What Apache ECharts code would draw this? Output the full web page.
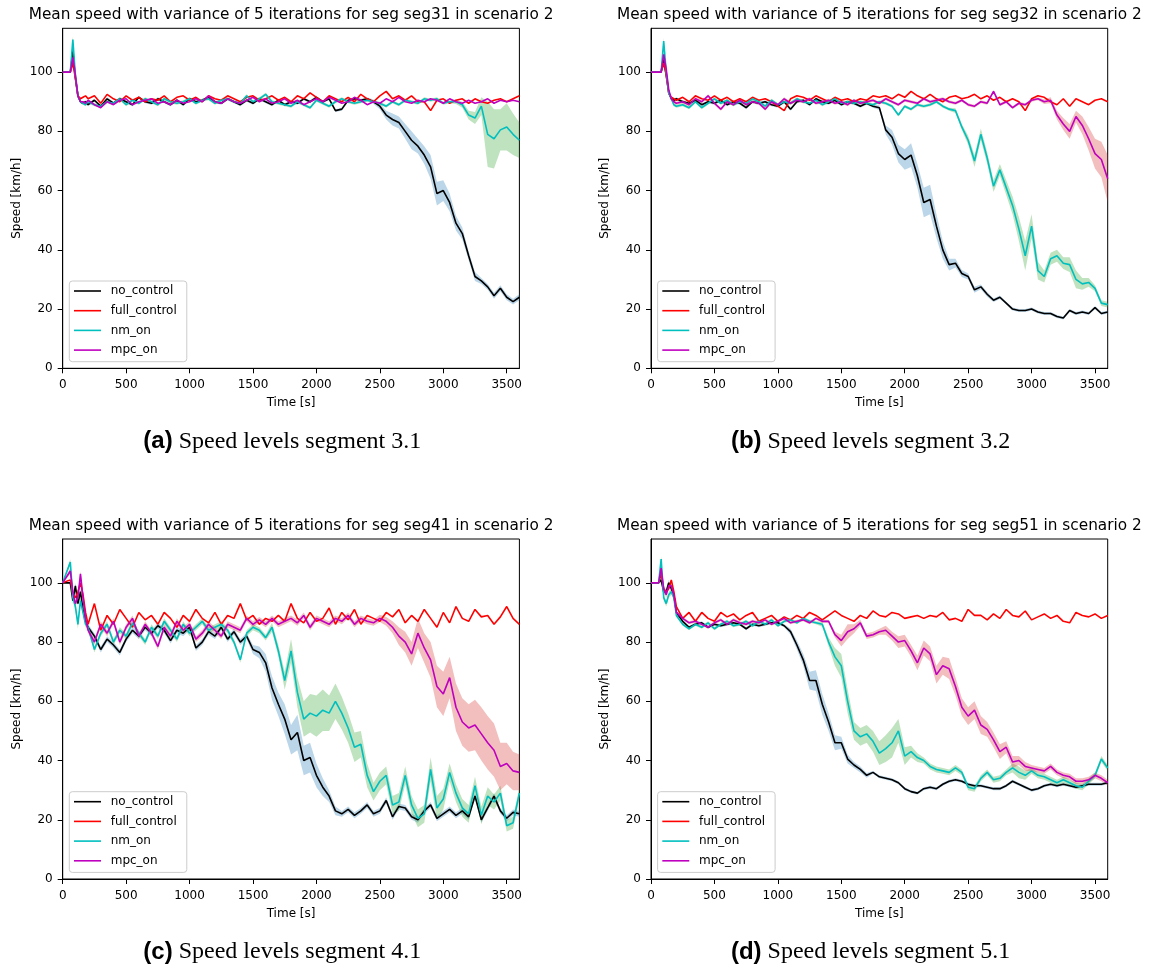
<!DOCTYPE html>
<html>
<head>
<meta charset="utf-8">
<title>Mean speed with variance of 5 iterations</title>
<script src="https://cdn.jsdelivr.net/npm/echarts@6/dist/echarts.min.js"></script>
<style>
  html, body { margin: 0; padding: 0; background: #fff; }
  #main { width: 1149px; height: 964px; }
</style>
</head>
<body>
<div id="main"></div>
<script>
// time stamps [s] shared by every series
var T = [0, 60, 80, 100, 120, 140, 160, 180,
  200, 250, 300, 350, 400, 450, 500, 550, 600, 650,
  700, 750, 800, 850, 900, 950, 1000, 1050, 1100, 1150,
  1200, 1250, 1300, 1350, 1400, 1450, 1500, 1550, 1600, 1650,
  1700, 1750, 1800, 1850, 1900, 1950, 2000, 2050, 2100, 2150,
  2200, 2250, 2300, 2350, 2400, 2450, 2500, 2550, 2600, 2650,
  2700, 2750, 2800, 2850, 2900, 2950, 3000, 3050, 3100, 3150,
  3200, 3250, 3300, 3350, 3400, 3450, 3500, 3550, 3600];

var names = ['no_control', 'full_control', 'nm_on', 'mpc_on'];
var xTicks = [0, 500, 1000, 1500, 2000, 2500, 3000, 3500];
var yTicks = [0, 20, 40, 60, 80, 100];

// ---- seg31 ----
var a_no = [100, 100, 107, 98, 92, 90, 89.5, 90,
  89, 90.5, 88.5, 91, 89.5, 91, 90, 89, 91.5, 90,
  89.5, 91, 90, 89, 90.5, 89, 91, 90, 90.5, 91.5,
  90, 89.5, 91, 90, 89, 90.5, 89.5, 91, 90, 89,
  90.5, 89, 90, 89.5, 91, 90, 91.5, 90, 91, 87,
  87.5, 90.5, 91, 90.5, 91, 90, 88.5, 85.5, 84, 83,
  80, 77, 75, 72, 68, 59, 60, 56, 49, 45.5,
  38, 31, 29.5, 27.5, 24.5, 27, 24, 22.5, 24];
var a_noBand = [0, 0, 1, 1, 0.5, 0.5, 0.5, 0.5,
  0.5, 0.5, 0.5, 0.5, 0.5, 0.5, 0.5, 0.5, 0.5, 0.5,
  0.5, 0.5, 0.5, 0.5, 0.5, 0.5, 0.5, 0.5, 0.5, 0.5,
  0.5, 0.5, 0.5, 0.5, 0.5, 0.5, 0.5, 0.5, 0.5, 0.5,
  0.5, 0.5, 0.5, 0.5, 0.5, 0.5, 0.5, 0.5, 0.5, 0.5,
  0.5, 0.5, 0.5, 0.5, 0.5, 0.8, 1, 1.5, 2, 2,
  2.5, 3, 2.5, 3, 4, 4, 3.5, 3, 2.5, 2,
  1.5, 1.5, 1, 1, 1, 1, 1, 1, 1];
var a_full = [100, 100, 103, 98, 92, 91, 91.5, 92,
  91, 92, 89.5, 92.5, 91, 90, 92, 90.5, 91.5, 90,
  91, 90.5, 92, 90, 91.5, 92, 90.5, 91.5, 90, 92,
  91, 90.5, 92, 91, 90, 91.5, 92, 90.5, 91, 92,
  90.5, 91.5, 90, 92, 91, 93, 91.5, 90, 92, 91,
  90, 91.5, 90, 92.5, 91, 90, 92, 93.5, 91, 92,
  90.5, 92, 90, 90, 87, 90.5, 91, 89.5, 90.5, 91,
  89.5, 91, 90, 89.5, 90.5, 91, 90, 91, 92];
var a_nm = [100, 100, 111, 99, 92, 90, 89.5, 89,
  90, 89, 88.5, 90, 89.5, 91, 89, 90.5, 89.5, 91,
  90, 89, 91, 90, 89.5, 90, 91, 89.5, 90.5, 91,
  89.5, 90.5, 91, 90, 89.5, 92, 90, 91, 92.5, 90,
  89.5, 89, 88.5, 90, 89, 88, 90.5, 89.5, 88.5, 90,
  91, 90, 89.5, 90, 90.5, 90, 89.5, 88.5, 90, 89,
  90.5, 90, 89.5, 91, 90.5, 91, 89.5, 90, 90, 89,
  85.5, 84.5, 88.5, 79, 77.5, 80.5, 81.5, 79, 77];
var a_nmBand = [0, 0, 1, 1, 0.5, 0.5, 0.5, 0.5,
  0.5, 0.5, 0.5, 0.5, 0.5, 0.5, 0.5, 0.5, 0.5, 0.5,
  0.5, 0.5, 0.5, 0.5, 0.5, 0.5, 0.5, 0.5, 0.5, 0.5,
  0.5, 0.5, 0.5, 0.5, 0.5, 0.5, 0.5, 0.5, 0.5, 0.5,
  0.5, 0.5, 0.5, 0.5, 0.5, 0.5, 0.5, 0.5, 0.5, 0.5,
  0.5, 0.5, 0.5, 0.5, 0.5, 0.5, 0.5, 0.5, 0.5, 0.5,
  0.5, 0.5, 0.5, 0.5, 0.5, 0.5, 0.5, 0.5, 0.8, 1,
  1.5, 2, 3, 11, 10, 7, 8, 7, 6];
var a_mpc = [100, 100, 105, 99, 92, 90, 90, 89.5,
  90.5, 89, 88, 90, 89, 90.5, 91, 89, 90, 90.5,
  91, 89.5, 90, 89, 90.5, 89.5, 90, 91, 90, 92,
  90, 89.5, 91, 90, 89.5, 90.5, 91.5, 90, 91, 89.5,
  90, 91, 89.5, 90.5, 89, 90, 91, 90, 91.5, 90.5,
  89.5, 90, 91.5, 90.5, 89, 90, 89.5, 91, 90, 91.5,
  90, 89.5, 90.5, 90, 91, 90.5, 89.5, 91, 90, 89.5,
  90.5, 89.5, 90, 91, 89.5, 90.5, 90, 90.5, 90];

// ---- seg32 ----
var b_no = [100, 100, 100, 105, 99, 93, 91, 90.5,
  91, 90, 89.5, 90.5, 89, 90, 89.5, 90.5, 89, 90,
  89.5, 88, 90, 89.5, 90, 89, 88.5, 90, 87.5, 90,
  90.5, 89, 91, 90, 89.5, 90.5, 89, 90, 89.5, 88.5,
  89.5, 88.5, 88, 80.5, 78, 72.5, 70.5, 72, 65, 56,
  57, 48, 40, 35, 35.5, 32, 31, 26.5, 27.5, 25,
  23, 24, 22, 20, 19.5, 19.5, 20, 19, 18.5, 18.5,
  17.5, 17, 19.5, 18.5, 19, 18.5, 20.5, 18.5, 19];
var b_noBand = [0, 0, 0, 1, 1, 0.5, 0.5, 0.5,
  0.5, 0.5, 0.5, 0.5, 0.5, 0.5, 0.5, 0.5, 0.5, 0.5,
  0.5, 0.5, 0.5, 0.5, 0.5, 0.5, 0.5, 0.5, 0.5, 0.5,
  0.5, 0.5, 0.5, 0.5, 0.5, 0.5, 0.5, 0.5, 0.5, 0.5,
  0.5, 0.5, 0.8, 1.5, 2.5, 3, 3.5, 4, 4, 5,
  5, 4, 3, 2, 1.5, 1.2, 1, 1, 0.8, 0.8,
  0.6, 0.6, 0.5, 0.5, 0.5, 0.5, 0.5, 0.5, 0.5, 0.5,
  0.5, 0.5, 0.5, 0.5, 0.5, 0.5, 0.5, 0.5, 0.5];
var b_full = [100, 100, 100, 103, 99, 93, 91.5, 91,
  90.5, 91.5, 90, 92, 91, 90.5, 92, 90.5, 91.5, 90,
  91, 90, 91.5, 90.5, 91, 90, 88.5, 87, 91, 92,
  91.5, 90.5, 92, 91, 90, 91.5, 90.5, 91, 90, 91,
  90.5, 92, 91.5, 92, 91, 92.5, 91.5, 93.5, 92, 91,
  92.5, 91, 90, 91.5, 92, 91, 91.5, 92.5, 91, 92,
  90.5, 91.5, 90, 91, 90, 87, 91, 92, 91.5, 90,
  89, 91, 88.5, 91, 90, 89, 90.5, 91, 90];
var b_nm = [100, 100, 100, 110.5, 100, 93, 91, 89,
  88.5, 89, 88, 90, 88, 89.5, 91, 89.5, 90.5, 89,
  90, 89.5, 91, 90, 88.5, 90.5, 89, 90, 89.5, 91,
  90, 89.5, 90.5, 89, 90, 91, 89.5, 90, 89.5, 90,
  89.5, 89, 90, 89.5, 88.5, 85.5, 88.5, 87.5, 89, 88.5,
  89, 90, 88.5, 87.5, 87, 81.5, 77, 70, 79, 71,
  61.5, 67, 61, 55, 47, 38, 48, 33, 31, 37,
  38, 35.5, 35, 30, 28.5, 29, 27, 22, 21.5];
var b_nmBand = [0, 0, 0, 1, 1, 0.5, 0.5, 0.5,
  0.5, 0.5, 0.5, 0.5, 0.5, 0.5, 0.5, 0.5, 0.5, 0.5,
  0.5, 0.5, 0.5, 0.5, 0.5, 0.5, 0.5, 0.5, 0.5, 0.5,
  0.5, 0.5, 0.5, 0.5, 0.5, 0.5, 0.5, 0.5, 0.5, 0.5,
  0.5, 0.5, 0.5, 0.5, 0.5, 0.5, 0.5, 0.5, 0.5, 0.5,
  0.5, 0.5, 0.5, 0.5, 0.8, 1, 1.5, 2, 2, 2,
  2, 2, 2.5, 3, 4, 5, 4, 3, 2, 2,
  2, 2, 2.5, 3, 2, 1.5, 1, 1, 1];
var b_mpc = [100, 100, 100, 106, 101, 94, 91, 90,
  89.5, 90, 89, 91, 90, 92, 89.5, 87.5, 90, 89,
  90.5, 89, 90, 89.5, 87.5, 90, 89, 91, 89.5, 90.5,
  90, 91, 89.5, 90, 90.5, 89.5, 90, 89, 90.5, 89.5,
  90, 90.5, 89.5, 91, 90, 89, 90.5, 90, 89.5, 91,
  90, 90.5, 91, 90, 89.5, 90.5, 89, 88.5, 90, 89.5,
  93.5, 89, 90, 88, 89.5, 89, 90.5, 91, 90, 90.5,
  85.5, 82.5, 80, 85, 82, 77.5, 72.5, 70.5, 64];
var b_mpcBand = [0, 0, 0, 1, 1, 0.5, 0.5, 0.5,
  0.5, 0.5, 0.5, 0.5, 0.5, 0.5, 0.5, 0.5, 0.5, 0.5,
  0.5, 0.5, 0.5, 0.5, 0.5, 0.5, 0.5, 0.5, 0.5, 0.5,
  0.5, 0.5, 0.5, 0.5, 0.5, 0.5, 0.5, 0.5, 0.5, 0.5,
  0.5, 0.5, 0.5, 0.5, 0.5, 0.5, 0.5, 0.5, 0.5, 0.5,
  0.5, 0.5, 0.5, 0.5, 0.5, 0.5, 0.5, 0.5, 0.5, 0.5,
  0.5, 0.5, 0.5, 0.5, 0.5, 0.5, 0.5, 0.5, 0.8, 1,
  1.5, 2, 2.5, 2, 3, 4, 5, 6, 8];

// ---- seg41 ----
var c_no = [100, 100, 94, 99, 93, 97, 91, 87,
  85, 82, 77.5, 81, 79, 76.5, 81, 84, 82, 85,
  83, 85.5, 84, 80.5, 84, 83, 85, 78, 80, 83.5,
  82, 85, 81, 83.5, 80, 82, 77.5, 76.5, 73, 64.5,
  59, 54, 47, 49.5, 40, 41, 35, 31, 28, 23,
  22, 23.5, 21.5, 23, 25, 22, 23, 26.5, 21, 24.5,
  24, 21, 20, 23, 25, 20.5, 22, 23.5, 21.5, 23,
  21, 28, 20, 24, 28, 23, 20.5, 22.5, 22];
var c_noBand = [0, 0.5, 1, 1, 1, 1, 1, 1,
  1, 1, 1, 1, 1, 1, 1, 1, 1, 1,
  1, 1, 1, 1, 1, 1, 1, 1, 1, 1,
  1, 1, 1, 1, 1, 1, 1.5, 2, 3, 4,
  4, 5, 5, 6, 5, 5, 4, 3, 2, 1.5,
  1, 1, 1, 1, 1, 1, 1, 1, 1, 1,
  1, 1, 1, 1, 1, 1, 1, 1, 1, 1,
  1, 1, 1, 1, 1, 1, 1, 1, 1];
var c_full = [100, 101, 96, 95, 97, 100, 96, 90,
  86, 93, 84, 89, 86, 91, 88, 85, 90, 87.5,
  89, 86, 90, 88, 85, 89, 87, 91, 88, 86.5,
  90, 86, 89, 88, 93, 87.5, 89, 86, 88, 87,
  89, 87, 93, 88, 86.5, 90, 87, 88, 91.5, 86,
  90, 87.5, 91, 86, 89, 88, 87, 90, 88.5, 91,
  86.5, 89, 87, 91, 88, 85, 90, 86.5, 92, 88,
  87, 91, 88.5, 89, 86, 88.5, 92, 88, 86];
var c_nm = [100, 107, 95, 92, 86, 94, 90, 86,
  85, 77.5, 83, 86, 80, 84, 82, 86.5, 83, 80,
  85, 82, 87, 84, 81, 86, 83, 85, 87, 84,
  85, 86, 84, 80, 74, 83, 85, 84, 81.5, 85,
  77, 67, 77, 63, 54, 56, 55, 57, 56, 60,
  56, 51, 44.5, 45.5, 35, 29.5, 33, 35, 25, 26,
  35, 25, 20.5, 22, 37, 24, 27, 36, 29, 24,
  22, 31.5, 21.5, 28, 26, 29, 18, 19, 29];
var c_nmBand = [0, 1, 1, 1.5, 1.5, 1, 1, 1,
  1, 1, 1, 1, 1, 1, 1, 1, 1, 1,
  1, 1, 1, 1, 1, 1, 1, 1, 1, 1,
  1, 1, 1, 1, 1, 1, 1, 1, 1, 1.5,
  2, 3, 4, 5, 6, 6.5, 7, 7, 6, 6,
  5.5, 5, 5, 4.5, 4, 3, 3, 3, 3, 3,
  3, 3, 3, 3, 4, 4, 3.5, 3, 3, 3,
  3, 3, 3, 3, 2.5, 2.5, 2, 2, 2];
var c_mpc = [100, 104, 97, 93, 95, 103, 95, 88,
  84, 80, 86, 83, 87, 80, 85, 88, 82, 86,
  83, 78.5, 85, 82, 87, 84, 86, 81, 83, 86,
  84, 82, 86, 85, 84, 88, 86, 87.5, 86, 88,
  86, 87, 88, 86.5, 89, 85, 88, 87, 86, 88,
  87, 89, 86, 88, 87, 86.5, 88, 87, 85, 82,
  80, 76, 83, 78, 74, 65, 62.5, 68, 58, 53,
  51, 52, 49, 46, 43.5, 38, 39, 36.5, 36];
var c_mpcBand = [0, 1, 1, 1, 1, 1, 1, 1,
  1, 1, 1, 1, 1, 1, 1, 1, 1, 1,
  1, 1, 1, 1, 1, 1, 1, 1, 1, 1,
  1, 1, 1, 1, 1, 1, 1, 1, 1, 1,
  1, 1, 1, 1, 1, 1, 1, 1, 1, 1,
  1, 1, 1, 1, 1, 1, 1.2, 1.5, 2, 3,
  3.5, 4, 5, 5, 6, 7, 7.5, 7, 8, 8,
  8, 8.5, 9, 9, 9, 8, 7, 6.5, 6];

// ---- seg51 ----
var d_no = [100, 100, 101, 97, 97, 100, 98, 96,
  90, 87, 85, 86, 86.5, 85, 86, 85.5, 86, 86.5,
  86, 84.5, 86, 85.5, 86, 86.5, 86.5, 85.5, 83.5, 79,
  74, 67, 67, 59, 53, 46, 46, 40.5, 38.5, 37,
  35, 36, 34.5, 34, 33.5, 32.5, 30.5, 29.5, 29, 30.5,
  31, 30.5, 32, 33, 33.5, 33, 32, 31.5, 31.5, 31,
  30.5, 30.5, 31.5, 33, 32, 31, 30, 30.5, 31.5, 32,
  31.5, 32, 31.5, 31, 31.5, 32, 32, 32, 32.5];
var d_noBand = [0, 0, 1, 1, 1, 1, 0.5, 0.5,
  0.5, 0.5, 0.5, 0.5, 0.5, 0.5, 0.5, 0.5, 0.5, 0.5,
  0.5, 0.5, 0.5, 0.5, 0.5, 0.5, 0.5, 0.5, 1, 1.5,
  2, 3, 3.5, 3.5, 3, 2.5, 2, 1.5, 1, 1,
  0.8, 0.5, 0.5, 0.5, 0.5, 0.5, 0.5, 0.5, 0.5, 0.5,
  0.5, 0.5, 0.5, 0.5, 0.5, 0.5, 0.5, 0.5, 0.5, 0.5,
  0.5, 0.5, 0.5, 0.5, 0.5, 0.5, 0.5, 0.5, 0.5, 0.5,
  0.5, 0.5, 0.5, 0.5, 0.5, 0.5, 0.5, 0.5, 0.5];
var d_full = [100, 100, 103, 98, 97, 98, 101, 97,
  92, 88, 90, 87, 90, 88, 87, 90, 88.5, 89.5,
  87.5, 89, 90, 87, 88, 89, 87, 88.5, 87.5, 89,
  88, 90, 89, 87.5, 89, 90.5, 89, 88, 87, 89,
  88, 90.5, 89, 88.5, 90, 89.5, 88, 88.5, 89, 88,
  89, 88.5, 90, 87.5, 88, 87, 91, 89, 89, 87.5,
  89.5, 88, 91, 89, 88.5, 90.5, 87.5, 88.5, 89.5, 88,
  89, 87, 86.5, 90, 89, 88.5, 89.5, 88, 89];
var d_nm = [100, 100, 108, 95, 93, 96, 97, 95,
  89, 86, 84.5, 86, 85, 86.5, 84.5, 86, 87, 85.5,
  86, 87, 85.5, 87, 86, 87.5, 85.5, 87, 87.5, 86.5,
  88, 87, 86.5, 86, 80, 75, 72, 60, 50, 48,
  49, 46.5, 42.5, 44, 46, 50, 41.5, 43, 41, 40,
  38, 37, 36.5, 36, 37.5, 36, 31, 30.5, 34, 36,
  33.5, 34, 36, 37.5, 36, 35, 36.5, 35, 34.5, 33.5,
  32.5, 33.5, 32.5, 31.5, 31, 33, 35, 40.5, 37.5];
var d_nmBand = [0, 0, 1, 1, 1, 1, 1, 0.5,
  0.5, 0.5, 0.5, 0.5, 0.5, 0.5, 0.5, 0.5, 0.5, 0.5,
  0.5, 0.5, 0.5, 0.5, 0.5, 0.5, 0.5, 0.5, 0.5, 0.5,
  0.5, 0.5, 0.5, 0.8, 1.5, 3, 4, 4, 3, 3,
  3, 3.5, 4, 4.5, 5, 4, 3, 2, 1.5, 1,
  1, 1, 1, 1, 1, 1, 1, 1, 1, 1,
  1, 1, 1, 1.5, 2, 1.5, 1, 1, 1, 1,
  1, 1, 1, 1, 1, 1, 1, 1, 1];
var d_mpc = [100, 100, 105, 98, 96, 99, 99, 96,
  90, 88, 86.5, 87, 86, 85, 86.5, 87.5, 86, 87.5,
  86.5, 86, 87, 86.5, 87.5, 86, 87, 88, 86.5, 87,
  87.5, 86.5, 88, 87, 87, 82.5, 80.5, 83.5, 84.5, 86.5,
  82, 82.5, 83.5, 84, 82, 80, 80.5, 77, 73, 78,
  76, 69, 72, 71, 65, 58, 55, 57, 52, 50.5,
  47, 43, 44.5, 39.5, 40, 38, 37.5, 37, 36.5, 38,
  36, 35, 34.5, 33, 33, 33.5, 35, 34, 32.5];
var d_mpcBand = [0, 0, 1, 1, 1, 1, 0.5, 0.5,
  0.5, 0.5, 0.5, 0.5, 0.5, 0.5, 0.5, 0.5, 0.5, 0.5,
  0.5, 0.5, 0.5, 0.5, 0.5, 0.5, 0.5, 0.5, 0.5, 0.5,
  0.5, 0.5, 0.5, 0.5, 0.5, 1, 2, 2.5, 1.5, 1,
  1, 1, 1, 1.5, 1.5, 2, 2, 2, 2.5, 2.5,
  2.5, 3, 3, 3.5, 3, 3, 3, 3, 3, 2.5,
  2.5, 2.5, 2, 2, 1.5, 1.5, 1, 1, 1, 1,
  1, 1, 1, 1, 1, 1, 1, 1, 1];

var panels = [
  { seg: 'seg31', tag: '(a)', text: 'Speed levels segment 3.1',
    means: [a_no, a_full, a_nm, a_mpc], bands: [a_noBand, null, a_nmBand, null] },
  { seg: 'seg32', tag: '(b)', text: 'Speed levels segment 3.2',
    means: [b_no, b_full, b_nm, b_mpc], bands: [b_noBand, null, b_nmBand, b_mpcBand] },
  { seg: 'seg41', tag: '(c)', text: 'Speed levels segment 4.1',
    means: [c_no, c_full, c_nm, c_mpc], bands: [c_noBand, null, c_nmBand, c_mpcBand] },
  { seg: 'seg51', tag: '(d)', text: 'Speed levels segment 5.1',
    means: [d_no, d_full, d_nm, d_mpc], bands: [d_noBand, null, d_nmBand, d_mpcBand] }
];

var lineColors = ['#000000', '#ff0000', '#00bfbf', '#bf00bf'];
var bandColors = ['#1f77b4', '#ff7f0e', '#2ca02c', '#d62728'];
var boxes = [[62.7, 28.3], [651, 28.3], [62.7, 539], [651, 539]];
var capX = [282.3, 870.6, 282.3, 870.6];
var plotW = 456.7, plotH = 340;
var font = 'DejaVu Sans';

var grid = [], xAxis = [], yAxis = [], series = [], legend = [], graphic = [];

function plain(v) { return String(v); }

function bandSeries(pi, m, b, color) {
  var rows = T.map(function (t, i) { return [t, m[i] - b[i], m[i] + b[i]]; });
  return {
    type: 'custom', coordinateSystem: 'cartesian2d', xAxisIndex: pi, yAxisIndex: pi,
    z: 1, silent: true, clip: true, animation: false,
    encode: { x: 0, y: [1, 2] },
    data: rows,
    renderItem: function (params, api) {
      if (params.dataIndex !== 0) return null;
      var pts = [];
      for (var i = 0; i < rows.length; i++) pts.push(api.coord([rows[i][0], rows[i][2]]));
      for (var j = rows.length - 1; j >= 0; j--) pts.push(api.coord([rows[j][0], rows[j][1]]));
      return { type: 'polygon', shape: { points: pts }, style: { fill: color, opacity: 0.3 } };
    }
  };
}

panels.forEach(function (p, pi) {
  var L = boxes[pi][0], top = boxes[pi][1];
  grid.push({ left: L, top: top, width: plotW, height: plotH, show: true,
    borderColor: '#000', borderWidth: 1, outerBoundsMode: 'none', containLabel: false });

  xAxis.push({
    type: 'value', gridIndex: pi, min: 0, max: 3600, interval: 500,
    name: 'Time [s]', nameLocation: 'middle', nameGap: 29,
    nameTextStyle: { fontFamily: font, fontSize: 12, color: '#000' },
    axisLine: { show: true, onZero: false, lineStyle: { color: '#000', width: 1 } },
    axisTick: { show: true, length: 5, lineStyle: { color: '#000' }, customValues: xTicks },
    axisLabel: { color: '#000', fontFamily: font, fontSize: 12, margin: 10.5,
      customValues: xTicks, formatter: plain },
    splitLine: { show: false }
  });
  yAxis.push({
    type: 'value', gridIndex: pi, min: 0, max: 114.8, interval: 20,
    name: 'Speed [km/h]', nameLocation: 'middle', nameGap: 40,
    nameTextStyle: { fontFamily: font, fontSize: 12, color: '#000' },
    axisLine: { show: true, onZero: false, lineStyle: { color: '#000', width: 1 } },
    axisTick: { show: true, length: 5, lineStyle: { color: '#000' }, customValues: yTicks },
    axisLabel: { color: '#000', fontFamily: font, fontSize: 12, margin: 10,
      customValues: yTicks, formatter: plain },
    splitLine: { show: false }
  });

  // variance bands first, so the mean lines sit on top
  p.means.forEach(function (m, k) {
    if (m.length !== T.length) throw new Error(p.seg + ' ' + names[k] + ' length ' + m.length);
    var b = p.bands[k];
    if (b) {
      if (b.length !== T.length) throw new Error(p.seg + ' band ' + names[k] + ' length ' + b.length);
      series.push(bandSeries(pi, m, b, bandColors[k]));
    }
  });
  p.means.forEach(function (m, k) {
    series.push({
      type: 'line', name: names[k], xAxisIndex: pi, yAxisIndex: pi,
      data: T.map(function (t, i) { return [t, m[i]]; }),
      symbol: 'none', z: 2, silent: true, animation: false,
      lineStyle: { color: lineColors[k], width: 1.6 },
      itemStyle: { color: lineColors[k] }
    });
  });

  legend.push({
    data: names, orient: 'vertical', left: L + 6.6, top: top + 252.7,
    padding: [4, 10, 5.6, 4.7], itemGap: 7.7, itemWidth: 27, itemHeight: 12,
    icon: 'path://M0,0H27V1.6H0Z', symbolKeepAspect: true,
    backgroundColor: 'rgba(255,255,255,0.8)', borderColor: '#cccccc', borderWidth: 1, borderRadius: 3,
    selectedMode: false,
    textStyle: { fontFamily: font, fontSize: 12, color: '#000', padding: [0, 0, 0, 4.7] }
  });

  graphic.push({
    type: 'text', x: L + plotW / 2, y: top - 13, silent: true,
    style: { text: 'Mean speed with variance of 5 iterations for seg ' + p.seg + ' in scenario 2',
      fontFamily: font, fontSize: 15.3, fill: '#000',
      textAlign: 'center', align: 'center', textVerticalAlign: 'middle', verticalAlign: 'middle' }
  });
  graphic.push({
    type: 'text', x: capX[pi], y: top + 413.2, silent: true,
    style: {
      text: '{b|' + p.tag + '}{s| ' + p.text + '}',
      fill: '#000', textAlign: 'center', align: 'center', textVerticalAlign: 'middle', verticalAlign: 'middle',
      rich: {
        b: { fontFamily: 'Liberation Sans', fontWeight: 'bold', fontSize: 24, fill: '#000' },
        s: { fontFamily: 'Liberation Serif', fontSize: 24, fill: '#000' }
      }
    }
  });
});

var chart = echarts.init(document.getElementById('main'), null, { renderer: 'canvas' });
chart.setOption({
  animation: false,
  backgroundColor: '#fff',
  textStyle: { fontFamily: font },
  grid: grid,
  xAxis: xAxis,
  yAxis: yAxis,
  legend: legend,
  graphic: graphic,
  series: series
});
</script>
</body>
</html>
